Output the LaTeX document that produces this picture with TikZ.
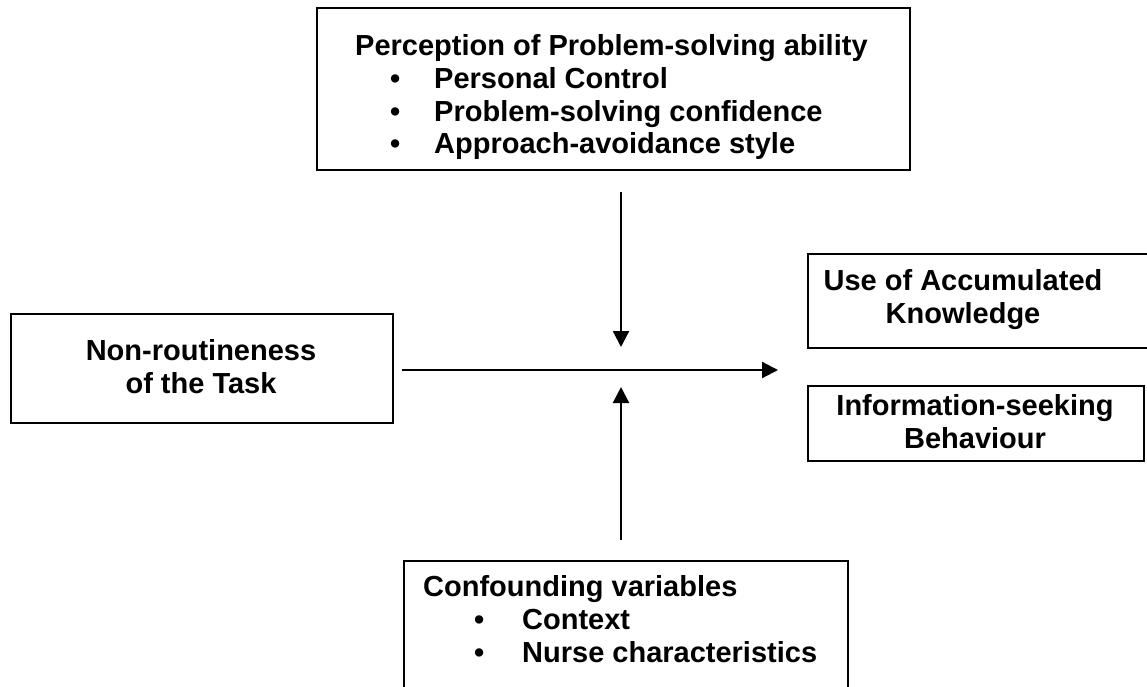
\documentclass[tikz,border=0pt]{standalone}
\usepackage{fontspec}
\setmainfont{Liberation Sans}
\usetikzlibrary{arrows.meta}
\begin{document}
\begin{tikzpicture}[x=1pt,y=-1pt,
  box/.style={draw,line width=1.8pt,rectangle,inner sep=0pt,anchor=north west},
  lbl/.style={font=\fontsize{29}{33}\selectfont\bfseries,inner sep=0pt},
  lblw/.style={lbl,anchor=base west},
  arr/.style={line width=2.2pt,-{Triangle[length=16pt,width=16pt]}}]
\useasboundingbox (0,0) rectangle (1147,687);
% boxes
\node[box,minimum width=593pt,minimum height=162pt] (top) at (316,7) {};
\node[box,minimum width=382pt,minimum height=109pt] (left) at (10,313) {};
\node[box,minimum width=353pt,minimum height=94pt] (r1) at (807,253) {};
\node[box,minimum width=336pt,minimum height=75pt] (r2) at (807,385) {};
\node[box,minimum width=444pt,minimum height=140pt] (bot) at (403,560) {};
% top box text
\node[lblw] (t0) at (355,56) {Perception of Problem-solving ability};
\node[lblw] (tb1) at (390,89) {•};
\node[lblw] (tb2) at (390,122) {•};
\node[lblw] (tb3) at (390,154) {•};
\node[lblw] (t1) at (434,89) {Personal Control};
\node[lblw] (t2) at (434,122) {Problem-solving confidence};
\node[lblw] (t3) at (434,154) {Approach-avoidance style};
% left box text
\node[lbl,align=center] (lt) at (201,367) {Non-routineness\\of the Task};
% right boxes text
\node[lbl,align=center] (r1t) at (963,300) {Use of Accumulated\\Knowledge};
\node[lbl,align=center] (r2t) at (975,422) {Information-seeking\\Behaviour};
% bottom box text
\node[lblw] (b0) at (423,596) {Confounding variables};
\node[lblw] (bb1) at (474,629) {•};
\node[lblw] (bb2) at (474,662) {•};
\node[lblw] (b1) at (522,629) {Context};
\node[lblw] (b2) at (522,662) {Nurse characteristics};
% arrows
\coordinate (d1) at (621,192);
\coordinate (d2) at (621,347);
\coordinate (h1) at (402,370);
\coordinate (h2) at (778,370);
\coordinate (u1) at (621,540);
\coordinate (u2) at (621,387);
\draw[arr] (d1) -- (d2);
\draw[arr] (h1) -- (h2);
\draw[arr] (u1) -- (u2);
\end{tikzpicture}
\end{document}
